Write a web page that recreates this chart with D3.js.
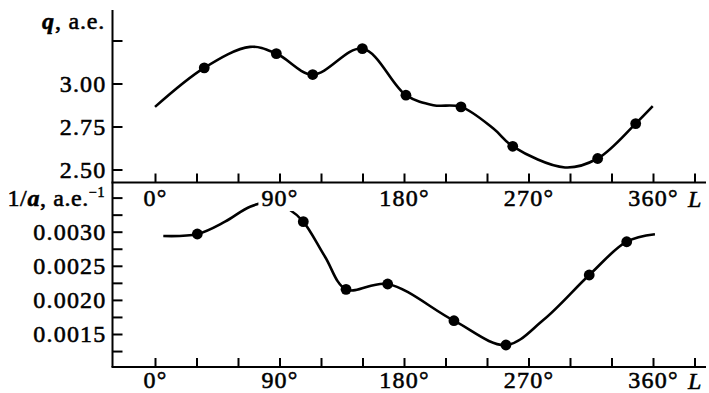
<!DOCTYPE html>
<html>
<head>
<meta charset="utf-8">
<script src="https://cdn.jsdelivr.net/npm/d3@7"></script>
<style>
  body { margin: 0; background: #fff; }
  text { font-family: "Liberation Serif", "Times New Roman", serif; fill: #000; stroke: #000; stroke-width: 0.55px; }
</style>
</head>
<body>
<svg id="chart" width="709" height="393"></svg>
<script>
// longitude ticks (deg) and labels
const lTicks = [0, 30, 60, 90, 120, 150, 180, 210, 240, 270, 300, 330, 360, 390];
const lTickLabels = ["0°", "", "", "90°", "", "", "180°", "", "", "270°", "", "", "360°", ""];

// top panel: q, a.e.
const qTicks = [2.50, 2.75, 3.00, 3.25];
const qTickLabels = ["2.50", "2.75", "3.00", ""];
const qCurveL = [0, 35.6, 68.7, 87.7, 114.0, 149.9, 181.4, 201.2, 221.2, 244.6, 258.6, 296.4, 320.0, 347.5, 359.8];
const qCurveVal = [2.864, 3.091, 3.213, 3.174, 3.052, 3.203, 2.932, 2.874, 2.864, 2.738, 2.635, 2.512, 2.564, 2.767, 2.868];
const qDotL = [35.6, 87.7, 114.0, 149.9, 181.4, 221.2, 258.6, 320.0, 347.5];
const qDotVal = [3.091, 3.174, 3.052, 3.203, 2.932, 2.864, 2.635, 2.564, 2.767];

// bottom panel: 1/a, a.e.^-1
const aTicks = [0.00125, 0.0015, 0.00175, 0.0020, 0.00225, 0.0025, 0.00275, 0.0030, 0.00325, 0.0035];
const aTickLabels = ["", "0.0015", "", "0.0020", "", "0.0025", "", "0.0030", "", ""];
const aCurveL = [6.0, 30.6, 50.6, 68.7, 84.0, 97.6, 107.2, 122.9, 138.1, 168.2, 216.1, 253.7, 280.7, 313.9, 341.0, 361.4];
const aCurveVal = [0.002937, 0.002966, 0.003147, 0.003367, 0.00343, 0.003318, 0.003147, 0.002633, 0.002155, 0.002233, 0.001695, 0.001339, 0.001705, 0.002365, 0.002853, 0.002962];
const aDotL = [30.6, 107.2, 138.1, 168.2, 216.1, 253.7, 313.9, 341.0];
const aDotVal = [0.002966, 0.003147, 0.002155, 0.002233, 0.001695, 0.001339, 0.002365, 0.002853];

const svg = d3.select("#chart");
const left = 112.5, right = 706;
const topY = 10, midY = 182.5, botY = 367;

const x = d3.scaleLinear().domain([0, 360]).range([155, 653]);
const yq = d3.scaleLinear().domain([2.5, 3.0]).range([169.5, 83.5]);
const ya = d3.scaleLinear().domain([0.0015, 0.0030]).range([334, 231.7]);

const fontSize = 24;

function styleAxis(g) {
    g.select(".domain").remove();
    g.selectAll("line").attr("stroke", "#000").attr("stroke-width", 2);
    g.selectAll("text")
        .attr("fill", "#000")
        .style("font-family", '"Liberation Serif", "Times New Roman", serif')
        .style("font-size", fontSize + "px")
        .style("letter-spacing", "1.2px");
}

// curves
const line = (ys) => d3.line()
    .x(d => x(d[0]))
    .y(d => ys(d[1]))
    .curve(d3.curveCatmullRom.alpha(0.5));

svg.append("path")
    .datum(d3.zip(qCurveL, qCurveVal))
    .attr("d", line(yq))
    .attr("fill", "none").attr("stroke", "#000").attr("stroke-width", 2.6);

svg.append("path")
    .datum(d3.zip(aCurveL, aCurveVal))
    .attr("d", line(ya))
    .attr("fill", "none").attr("stroke", "#000").attr("stroke-width", 2.6);

svg.append("g").selectAll("circle")
    .data(d3.zip(qDotL, qDotVal))
    .join("circle")
    .attr("cx", d => x(d[0])).attr("cy", d => yq(d[1])).attr("r", 5.4).attr("fill", "#000");

svg.append("g").selectAll("circle")
    .data(d3.zip(aDotL, aDotVal))
    .join("circle")
    .attr("cx", d => x(d[0])).attr("cy", d => ya(d[1])).attr("r", 5.4).attr("fill", "#000");

// y axes
svg.append("g")
    .attr("transform", `translate(${left},0)`)
    .call(d3.axisLeft(yq).tickValues(qTicks).tickSizeInner(-10).tickSizeOuter(0).tickPadding(6)
        .tickFormat((d, i) => qTickLabels[i]))
    .call(styleAxis);

svg.append("g")
    .attr("transform", `translate(${left},0)`)
    .call(d3.axisLeft(ya).tickValues(aTicks).tickSizeInner(-10).tickSizeOuter(0).tickPadding(6)
        .tickFormat((d, i) => aTickLabels[i]))
    .call(styleAxis);

// x axes
const xAxis = d3.axisBottom(x).tickValues(lTicks).tickSizeInner(-9).tickSizeOuter(0)
    .tickFormat((d, i) => lTickLabels[i]);

const topX = svg.append("g")
    .attr("transform", `translate(0,${midY})`)
    .call(xAxis.tickPadding(6.5))
    .call(styleAxis);
// white patch behind the labels so they cut the curve below
topX.selectAll(".tick text").each(function () {
    const t = this.textContent;
    if (!t) return;
    const b = this.getBBox();
    d3.select(this.parentNode).insert("rect", "text")
        .attr("x", b.x - 3).attr("y", b.y + 2)
        .attr("width", b.width + 6).attr("height", b.height - 2)
        .attr("fill", "#fff");
});

svg.append("g")
    .attr("transform", `translate(0,${botY})`)
    .call(xAxis.tickPadding(4))
    .call(styleAxis);

// frame lines
svg.append("line").attr("x1", left).attr("x2", left).attr("y1", topY).attr("y2", botY)
    .attr("stroke", "#000").attr("stroke-width", 2);
[midY, botY].forEach(yy => {
    svg.append("line").attr("x1", left - 1).attr("x2", right).attr("y1", yy).attr("y2", yy)
        .attr("stroke", "#000").attr("stroke-width", 2);
});

// axis titles
[[midY, 24], [botY, 21.5]].forEach(([yy, off]) => {
    svg.append("text")
        .attr("x", 688).attr("y", yy + off)
        .style("font-size", fontSize + "px").style("font-style", "italic")
        .text("L");
});

const qTitle = svg.append("text")
    .attr("x", 105).attr("y", 29).attr("text-anchor", "end")
    .style("font-size", fontSize + "px").style("letter-spacing", "0.8px");
qTitle.append("tspan").style("font-style", "italic").style("font-weight", "bold").text("q");
qTitle.append("tspan").text(", a.e.");

const aTitle = svg.append("text")
    .attr("x", 105).attr("y", 206).attr("text-anchor", "end")
    .style("font-size", fontSize + "px").style("letter-spacing", "0.6px");
aTitle.append("tspan").text("1/");
aTitle.append("tspan").style("font-style", "italic").style("font-weight", "bold").text("a");
aTitle.append("tspan").text(", a.e.");
aTitle.append("tspan").attr("dy", -9).style("font-size", "14px").text("−1");
</script>
</body>
</html>
